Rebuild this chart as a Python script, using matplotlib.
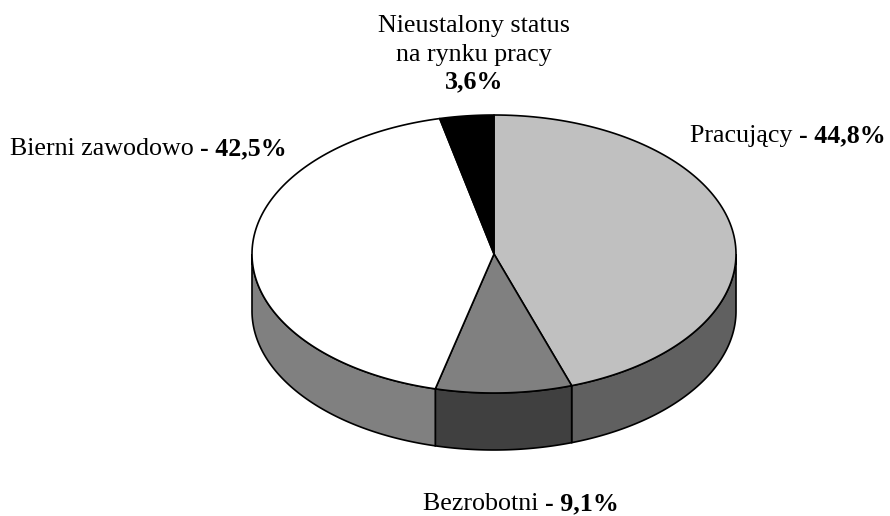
import numpy as np
import matplotlib.pyplot as plt
from matplotlib.patches import Polygon

plt.rcParams['font.family'] = ['Liberation Serif', 'DejaVu Serif']

# data
names = ['Pracujący', 'Bezrobotni', 'Bierni zawodowo', 'Nieustalony status na rynku pracy']
shares = [44.8, 9.1, 42.5, 3.6]
share_labels = ['44,8%', '9,1%', '42,5%', '3,6%']
top_colors = ['#c0c0c0', '#808080', '#ffffff', '#000000']
side_colors = ['#606060', '#404040', '#808080', '#000000']

# geometry of the pie (pixels)
cx, cy = 494, 254
rx, ry = 242, 139
depth = 57
fs = 18.7

fig = plt.figure(figsize=(8.9, 5.16), dpi=100)
ax = fig.add_axes([0, 0, 1, 1])
ax.set_xlim(0, 890)
ax.set_ylim(516, 0)
ax.axis('off')


def arc(a0, a1, n=120):
    t = np.radians(np.linspace(a0, a1, n))
    return cx + rx * np.cos(t), cy - ry * np.sin(t)


ends = 90 - np.cumsum(shares) / 100.0 * 360
starts = np.concatenate([[90], ends[:-1]])

# side walls (front half only)
for a0, a1, col in zip(starts, ends, side_colors):
    for k in (-1, 0, 1):
        lo, hi = -180 + 360 * k, 360 * k
        s, e = min(a0, hi), max(a1, lo)
        if s <= e:
            continue
        x, y = arc(s, e)
        pts = np.column_stack([np.concatenate([x, x[::-1]]),
                               np.concatenate([y, y[::-1] + depth])])
        ax.add_patch(Polygon(pts, closed=True, fc=col, ec='black', lw=1.2))

# top faces
for a0, a1, col in zip(starts, ends, top_colors):
    x, y = arc(a0, a1)
    pts = np.column_stack([np.concatenate([[cx], x]), np.concatenate([[cy], y])])
    ax.add_patch(Polygon(pts, closed=True, fc=col, ec='black', lw=1.2, joinstyle='round'))


def label(x, y, normal, bold):
    t = ax.text(x, y, normal, fontsize=fs, va='baseline', ha='left')
    ax.annotate(bold, xy=(1, 0), xycoords=t, va='bottom', ha='left',
                fontsize=fs, fontweight='bold')


label(690, 142, names[0] + ' ', '- ' + share_labels[0])
label(423, 510, names[1] + ' ', '- ' + share_labels[1])
label(10, 155, names[2] + ' ', '- ' + share_labels[2])

ax.text(474, 32, 'Nieustalony status', fontsize=fs, ha='center', va='baseline')
ax.text(474, 61, 'na rynku pracy', fontsize=fs, ha='center', va='baseline')
ax.text(474, 88, share_labels[3], fontsize=fs, ha='center', va='baseline', fontweight='bold')

fig.savefig('out.png', dpi=100)
